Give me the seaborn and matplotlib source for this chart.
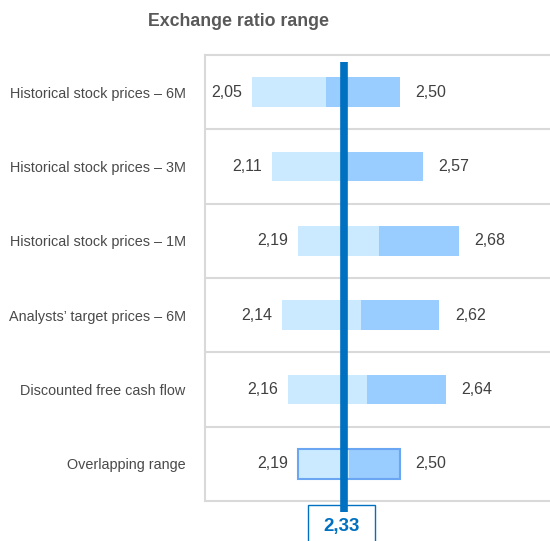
import matplotlib
matplotlib.use("Agg")
import matplotlib.pyplot as plt
import matplotlib.transforms as mtransforms
from matplotlib.patches import Rectangle
import seaborn as sns

methods = [
    "Historical stock prices – 6M",
    "Historical stock prices – 3M",
    "Historical stock prices – 1M",
    "Analysts’ target prices – 6M",
    "Discounted free cash flow",
    "Overlapping range",
]
low = [2.05, 2.11, 2.19, 2.14, 2.16, 2.19]
high = [2.50, 2.57, 2.68, 2.62, 2.64, 2.50]
reference_ratio = 2.33

LIGHT = "#cceaff"
DARK = "#99ccff"
LINE_BLUE = "#0070c0"
GRID = "#d9d9d9"
TEXT = "#404040"

sns.set_theme(style="white")
plt.rcParams["font.family"] = ["Liberation Sans", "DejaVu Sans"]

mid = [(lo + hi) / 2 for lo, hi in zip(low, high)]

fig = plt.figure(figsize=(5.5, 5.41), dpi=100)
ax = fig.add_axes([205 / 550, 1 - 501 / 541, 1 - 205 / 550, (501 - 55) / 541])

# stacked from zero: dark up to high, light up to midpoint, white hides below low
bar_kw = dict(y=methods, width=0.4, saturation=1, linewidth=0, ax=ax)
sns.barplot(x=high, color=DARK, **bar_kw)
sns.barplot(x=mid, color=LIGHT, **bar_kw)
sns.barplot(x=low, color="white", **bar_kw)

# outline for the overlapping range
last = len(methods) - 1
ax.barh(last, high[last] - low[last], left=low[last], height=0.4,
        fill=False, edgecolor="#6aa6f2", linewidth=1.5, zorder=3)

ax.set_xlim(1.907, 2.956)
ax.set_ylim(len(methods) - 0.5, -0.5)

for i in range(len(methods) + 1):
    ax.axhline(i - 0.5, color=GRID, lw=1.5, zorder=0.5, clip_on=False)

for i, (lo, hi) in enumerate(zip(low, high)):
    ax.annotate(f"{lo:.2f}".replace(".", ","), (lo, i), xytext=(-7, 0),
                textcoords="offset points", ha="right", va="center",
                fontsize=11.5, color=TEXT)
    ax.annotate(f"{hi:.2f}".replace(".", ","), (hi, i), xytext=(11, 0),
                textcoords="offset points", ha="left", va="center",
                fontsize=11.5, color=TEXT)

# reference ratio line running past the plot into the value box
trans = mtransforms.blended_transform_factory(ax.transData, ax.transAxes)
ax.plot([reference_ratio, reference_ratio], [0.984, -0.025], color=LINE_BLUE,
        lw=5.5, transform=trans, clip_on=False, zorder=5, solid_capstyle="butt")

ftrans = mtransforms.blended_transform_factory(ax.transData, fig.transFigure)
box = Rectangle((reference_ratio - 0.11, -0.01), 0.204, (541 - 505) / 541 + 0.01,
                transform=ftrans, fill=False, edgecolor=LINE_BLUE, lw=1,
                clip_on=False, zorder=4)
fig.patches.append(box)
fig.text(342 / 550, 1 - 527 / 541, f"{reference_ratio:.2f}".replace(".", ","),
         ha="center", va="center", fontsize=13.5, fontweight="bold", color=LINE_BLUE)

ax.set_xticks([])
ax.set_xlabel("")
ax.set_ylabel("")
ax.tick_params(axis="y", length=0, pad=14, labelsize=10.4, labelcolor="#4a4a4a")
for side in ["top", "right", "bottom"]:
    ax.spines[side].set_visible(False)
ax.spines["left"].set_color(GRID)
ax.spines["left"].set_linewidth(1.5)

fig.text(238 / 550, 1 - 22 / 541, "Exchange ratio range", ha="center", va="center",
         fontsize=12.8, fontweight="bold", color="#595959")

fig.savefig("out.png", dpi=100)
